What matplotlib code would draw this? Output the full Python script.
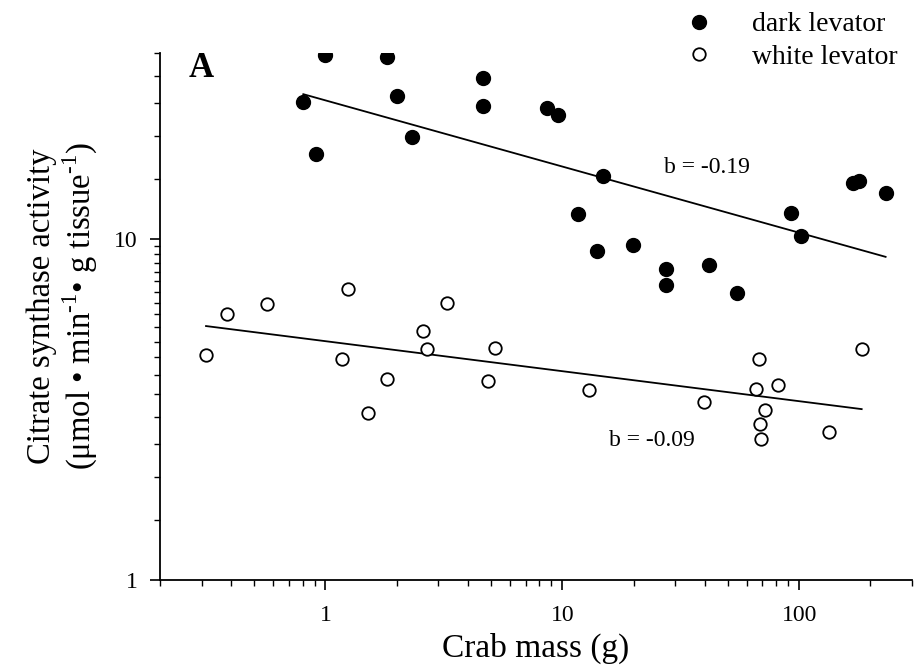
import numpy as np
import matplotlib
matplotlib.use("Agg")
import matplotlib.pyplot as plt
from matplotlib.ticker import FixedLocator, NullFormatter, LogLocator

# dark levator (filled circles)
dark_mass = [1.0, 1.81, 0.806, 0.908, 2.01, 2.32, 4.63, 4.63, 8.58, 9.55, 11.7, 14.0,
             14.9, 19.8, 27.5, 27.5, 41.8, 54.8, 92.3, 101.6, 169.2, 179.0, 231.7]
dark_cs = [34.4, 34.1, 25.2, 17.7, 26.2, 19.8, 29.6, 24.5, 24.2, 23.1, 11.8, 9.2,
           15.3, 9.6, 8.16, 7.31, 8.4, 6.93, 11.9, 10.2, 14.6, 14.8, 13.6]

# white levator (open circles)
white_mass = [0.313, 0.384, 0.565, 1.17, 1.25, 1.51, 1.81, 2.58, 2.69, 3.25, 4.87, 5.18,
              13.0, 39.8, 65.5, 67.9, 68.1, 69.2, 71.7, 81.3, 133.7, 183.6]
white_cs = [4.58, 6.0, 6.43, 4.43, 7.13, 3.08, 3.88, 5.35, 4.74, 6.5, 3.83, 4.79,
            3.6, 3.32, 3.62, 4.45, 2.86, 2.59, 3.15, 3.74, 2.72, 4.74]

# regression lines (end points)
dark_fit_x = [0.806, 231.7]
dark_fit_y = [26.5, 8.85]
white_fit_x = [0.313, 183.6]
white_fit_y = [5.55, 3.17]

y_minor = [1.5, 2, 2.5, 3, 3.5, 4, 4.5, 5, 5.5, 6, 6.5, 7, 7.5, 8, 8.5, 9, 9.5,
           15, 20, 25, 30, 35]

plt.rcParams['font.family'] = ['Liberation Serif', 'DejaVu Serif']
plt.rcParams['mathtext.fontset'] = 'custom'
plt.rcParams['mathtext.rm'] = 'Liberation Serif'

fig = plt.figure(figsize=(9.14, 6.70), dpi=100)
ax = fig.add_axes([0.175, 0.134, 0.823, 0.787])

ax.plot(dark_fit_x, dark_fit_y, color='black', lw=1.3)
ax.plot(white_fit_x, white_fit_y, color='black', lw=1.3)
ax.plot(dark_mass, dark_cs, 'o', ls='none', ms=10, mfc='black', mec='black',
        label='dark levator')
ax.plot(white_mass, white_cs, 'o', ls='none', ms=9, mfc='white', mec='black',
        mew=1.3, label='white levator')

ax.set_xscale('log')
ax.set_yscale('log')
ax.set_xlim(0.2, 300)
ax.set_ylim(1, 35)

ax.set_xticks([1, 10, 100])
ax.set_xticklabels(['1', '10', '100'])
ax.xaxis.set_minor_locator(LogLocator(base=10, subs=np.arange(2, 10)))
ax.xaxis.set_minor_formatter(NullFormatter())
ax.set_yticks([1, 10])
ax.set_yticklabels(['1', '10'])
ax.yaxis.set_minor_locator(FixedLocator(y_minor))
ax.yaxis.set_minor_formatter(NullFormatter())

for s in ['top', 'right']:
    ax.spines[s].set_visible(False)
for s in ['left', 'bottom']:
    ax.spines[s].set_linewidth(1.3)
ax.tick_params(which='major', direction='out', length=7, width=1.2, labelsize=17)
ax.tick_params(axis='x', which='major', pad=11)
ax.tick_params(axis='y', which='major', pad=9)
ax.tick_params(which='minor', direction='out', length=4, width=1.0)

ax.set_xlabel('Crab mass (g)', fontsize=24, labelpad=5)
ax.set_ylabel('Citrate synthase activity\n'
              '(μmol • min$^{\\mathregular{\u2010}1}$• g tissue$^{\\mathregular{\u2010}1}$)',
              fontsize=23.5, linespacing=1.12)
ax.yaxis.set_label_coords(-0.08, 0.52)

ax.text(0.038, 0.97, 'A', transform=ax.transAxes, fontsize=25, fontweight='bold',
        va='center', ha='left')
ax.text(27, 16.2, 'b = -0.19', fontsize=17, va='center', ha='left')
ax.text(15.7, 2.56, 'b = -0.09', fontsize=17, va='center', ha='left')

ax.legend(loc='upper left', bbox_to_anchor=(0.695, 1.083), frameon=False,
          fontsize=20, handletextpad=1.38, labelspacing=0.25, borderaxespad=0,
          borderpad=0.1, handlelength=1.0)

fig.savefig('out.png', dpi=100)
